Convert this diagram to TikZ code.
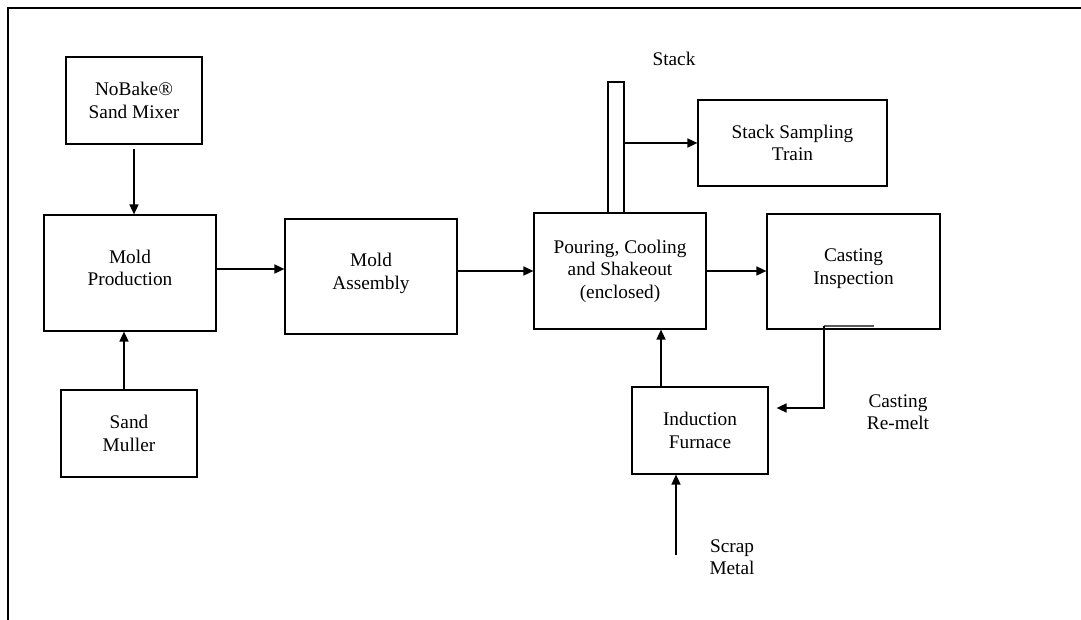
\documentclass[tikz,border=0pt]{standalone}
\usepackage{fontspec}
\setmainfont{Liberation Serif}
\usetikzlibrary{arrows.meta, positioning}

\begin{document}
\begin{tikzpicture}[x=1pt, y=-1pt, line width=1.6pt,
		box/.style={draw, rectangle, align=center, inner sep=0pt, line width=1.2pt,
			font=\fontsize{19.3}{22.5}\selectfont},
		note/.style={align=center, inner sep=0pt, font=\fontsize{19.3}{22.5}\selectfont},
		>={Triangle[length=10pt, width=9pt]}]
	\useasboundingbox (0,0) rectangle (1081,620);
	\draw[line width=1.2pt] (8,620) -- (8,8) -- (1081,8);

	\node[box, minimum width=136, minimum height=87] (nobake) at (134,100.5) {NoBake®\\Sand Mixer};
	\node[box, minimum width=172, minimum height=116] (moldprod) at (130,273) {Mold\\Production\\[-12.5pt]};
	\node[box, minimum width=136, minimum height=87] (muller) at (129,433.5) {Sand\\Muller};
	\node[box, minimum width=172, minimum height=115] (assembly) at (371,276.5) {Mold\\Assembly\\[-12.5pt]};
	\node[box, minimum width=172, minimum height=116] (pouring) at (620,271) {Pouring, Cooling\\and Shakeout\\(enclosed)};
	\node[box, minimum width=173, minimum height=115] (inspect) at (853.5,271.5) {Casting\\Inspection\\[-12.5pt]};
	\node[box, minimum width=16, minimum height=131] (stack) at (616,147.5) {};
	\node[box, minimum width=189, minimum height=86] (train) at (792.5,143) {Stack Sampling\\Train};
	\node[box, minimum width=136, minimum height=87] (furnace) at (700,430.5) {Induction\\Furnace};

	\node[note] (stacklbl) at (674,59) {Stack};
	\node[note] (remeltlbl) at (898,412) {Casting\\Re-melt};
	\node[note] (scraplbl) at (732,557) {Scrap\\Metal};

	\coordinate (mullerout) at ([xshift=-5pt]muller.north);
	\coordinate (mpout) at ([yshift=4pt]moldprod.east);
	\coordinate (furnout) at ([xshift=-39pt]furnace.north);
	\coordinate (scrap) at (676,555);
	\coordinate (remelt) at (824,326);

	\draw[->, shorten <=4pt] (nobake.south) -- (nobake.south |- moldprod.north);
	\draw[->] (mullerout) -- (mullerout |- moldprod.south);
	\draw[->] (mpout) -- (mpout -| assembly.west);
	\draw[->] (assembly.east |- pouring.west) -- (pouring.west);
	\draw[->] (pouring.east) -- (pouring.east -| inspect.west);
	\draw[->] (stack.east |- train.west) -- (train.west);
	\draw[->] (furnout) -- (furnout |- pouring.south);
	\draw[->] (scrap) -- (scrap |- furnace.south);

	% re-melt return line
	\draw[line width=1.2pt, gray!70!black] (remelt) -- ++(50,0);
	\draw[->, shorten >=8pt] (remelt) |- ([yshift=22.5pt]furnace.east);
\end{tikzpicture}
\end{document}
